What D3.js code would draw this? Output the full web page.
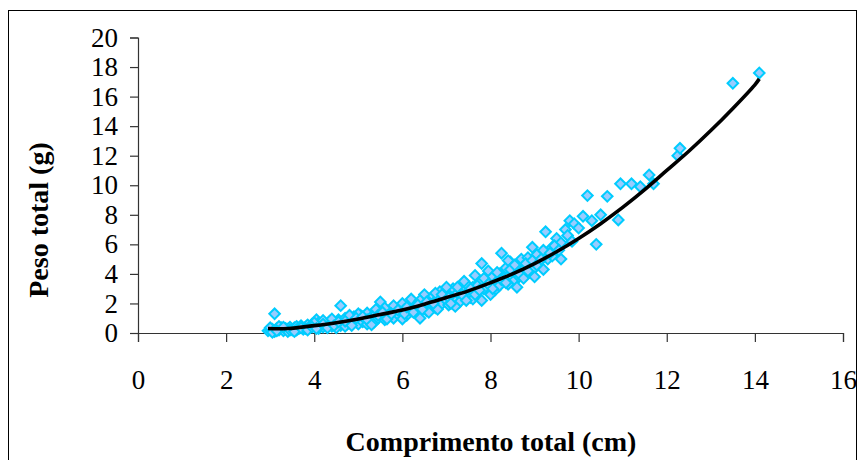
<!DOCTYPE html>
<html>
<head>
<meta charset="utf-8">
<script src="https://cdn.jsdelivr.net/npm/d3@7"></script>
<style>
  body { margin: 0; background: #fff; }
  svg { display: block; }
</style>
</head>
<body>
<script>
'use strict';

// scatter: comprimento total (cm) vs peso total (g)
const comprimento = [
  2.95, 3.0, 3.05, 3.1, 3.1, 3.15, 3.2, 3.25, 3.3, 3.35, 3.4, 3.45, 3.5, 3.55, 3.6, 3.65, 3.7, 3.75, 3.8, 3.85,
  3.9, 3.95, 4.0, 4.05, 4.1, 4.1, 4.15, 4.2, 4.25, 4.3, 4.35, 4.4, 4.45, 4.5, 4.55, 4.6, 4.6, 4.65, 4.7, 4.75,
  4.8, 4.85, 4.9, 4.95, 5.0, 5.0, 5.05, 5.1, 5.15, 5.2, 5.25, 5.3, 5.35, 5.4, 5.45, 5.5, 5.5, 5.55, 5.6, 5.65,
  5.7, 5.75, 5.8, 5.85, 5.9, 5.95, 6.0, 6.0, 6.05, 6.1, 6.15, 6.2, 6.25, 6.3, 6.35, 6.4, 6.45, 6.5, 6.5, 6.55,
  6.6, 6.65, 6.7, 6.75, 6.8, 6.85, 6.9, 6.95, 7.0, 7.0, 7.05, 7.1, 7.15, 7.2, 7.25, 7.3, 7.35, 7.4, 7.45, 7.5,
  7.55, 7.6, 7.65, 7.7, 7.75, 7.8, 7.8, 7.85, 7.9, 7.95, 8.0, 8.05, 8.1, 8.15, 8.2, 8.25, 8.3, 8.35, 8.4, 8.45,
  8.5, 8.55, 8.6, 8.65, 8.7, 8.75, 8.8, 8.85, 8.9, 8.95, 9.0, 9.05, 9.1, 9.2, 9.25, 9.3, 9.4, 9.5, 9.6, 9.7,
  9.8, 9.9, 10.0, 10.1, 10.2, 10.3, 10.4, 10.5, 10.65, 10.9, 10.95, 11.2, 11.4, 11.6, 11.7, 12.25, 12.3, 13.5, 14.1,
  3.0, 3.2, 3.4, 3.6, 3.8, 4.0, 4.2, 4.4, 4.5, 4.7, 4.8, 5.0, 5.2, 5.4, 5.6, 5.8, 6.0, 6.2, 6.4, 6.6,
  6.8, 7.0, 7.2, 7.4, 7.6, 7.7, 8.0, 8.2, 8.4, 8.6, 8.8, 9.0, 9.2, 9.4, 9.6,
  3.05, 3.15, 3.3, 3.45, 3.55, 3.7, 3.85, 3.95, 4.05, 4.2, 4.3, 4.45, 4.55, 4.7, 4.85, 4.95, 5.1, 5.2, 5.3, 5.45,
  5.55, 5.65, 5.75, 5.9, 6.05, 6.1, 6.25, 6.35, 6.45, 6.55, 6.7, 6.75, 6.9, 7.05, 7.1, 7.25, 7.35, 7.45, 7.55, 7.65,
  7.75, 7.85, 7.95, 8.05, 8.15, 8.25, 8.35, 8.45, 8.55, 8.65, 8.75, 8.85, 8.95, 9.05, 9.15, 9.35, 9.45, 9.55, 9.75, 9.85
];
const peso = [
  0.15, 0.2, 0.25, 0.1, 1.3, 0.3, 0.2, 0.35, 0.15, 0.3, 0.25, 0.4, 0.2, 0.35, 0.45, 0.3, 0.5, 0.25, 0.4, 0.55,
  0.35, 0.6, 0.45, 0.9, 0.3, 0.7, 0.5, 0.4, 0.65, 0.55, 0.8, 0.45, 0.7, 0.6, 0.9, 1.85, 0.5, 0.75, 1.0, 0.6,
  0.85, 0.7, 1.1, 0.8, 0.95, 0.6, 1.2, 0.75, 1.0, 1.35, 0.85, 1.1, 0.7, 1.3, 1.0, 1.5, 2.1, 1.15, 0.9, 1.4,
  1.2, 1.6, 1.0, 1.45, 1.25, 1.7, 1.4, 2.0, 1.6, 1.2, 1.85, 1.5, 2.1, 1.7, 1.3, 1.0, 2.0, 1.8, 2.6, 1.5,
  2.2, 1.9, 2.5, 1.7, 2.3, 2.8, 2.0, 2.4, 2.2, 2.7, 1.9, 2.5, 3.0, 2.3, 2.7, 2.1, 2.9, 2.5, 3.3, 2.8,
  2.4, 3.1, 3.9, 2.7, 3.4, 4.7, 2.2, 3.0, 3.6, 4.2, 3.2, 3.8, 2.9, 3.5, 4.0, 5.4, 3.7, 4.4, 3.3, 4.8,
  4.1, 3.6, 4.5, 3.8, 5.0, 4.3, 3.9, 5.1, 4.6, 5.8, 4.4, 5.3, 4.8, 5.6, 6.85, 5.0, 5.2, 6.4, 6.1, 7.0,
  7.6, 7.4, 7.1, 7.9, 9.3, 7.6, 6.0, 8.0, 9.25, 7.65, 10.1, 10.1, 9.9, 10.7, 10.1, 12.0, 12.5, 16.9, 17.6,
  0.35, 0.45, 0.1, 0.2, 0.3, 0.7, 0.85, 0.95, 0.35, 0.45, 1.2, 1.3, 0.6, 1.6, 1.7, 1.85, 0.95, 2.3, 2.2, 1.4,
  1.6, 3.1, 1.8, 3.5, 2.3, 3.2, 2.6, 3.2, 4.9, 3.1, 4.7, 3.8, 4.3, 5.8, 5.0,
  0.05, 0.15, 0.4, 0.2, 0.1, 0.35, 0.2, 0.4, 0.3, 0.6, 0.35, 0.5, 0.75, 0.8, 0.5, 1.0, 1.1, 0.9, 0.55, 1.2,
  1.4, 0.95, 1.3, 1.55, 1.3, 1.75, 1.4, 1.9, 1.6, 2.1, 2.0, 2.7, 2.6, 2.4, 2.0, 3.1, 2.6, 2.2, 3.0, 2.6,
  2.9, 3.7, 3.3, 3.0, 4.1, 3.6, 3.4, 4.3, 4.6, 4.0, 3.7, 4.2, 4.9, 4.6, 5.0, 5.4, 5.9, 5.6, 6.6, 6.2
];

// trend line
const trendX = [2.95, 3.4, 4, 4.5, 5, 5.5, 6, 6.5, 7, 7.5, 8, 8.5, 9, 9.5, 10, 10.5, 11, 11.5, 12, 12.5, 13, 13.5, 14, 14.1];
const trendY = [0.3, 0.3, 0.5, 0.7, 0.95, 1.25, 1.55, 1.95, 2.4, 2.85, 3.4, 4.0, 4.7, 5.5, 6.4, 7.4, 8.5, 9.7, 11.0, 12.3, 13.7, 15.2, 16.8, 17.2];

const xTicks = [0, 2, 4, 6, 8, 10, 12, 14, 16];
const yTicks = [0, 2, 4, 6, 8, 10, 12, 14, 16, 18, 20];

const W = 859, H = 460;
const FONT = "'Liberation Serif', 'Times New Roman', serif";

const svg = d3.select("body").append("svg")
  .attr("width", W)
  .attr("height", H);

// outer chart border
svg.append("rect")
  .attr("x", 8.5).attr("y", 10.5)
  .attr("width", 848).attr("height", 470)
  .attr("fill", "none")
  .attr("stroke", "#000")
  .attr("stroke-width", 1);

const x = d3.scaleLinear().domain([0, 16]).range([138, 843]);
const y = d3.scaleLinear().domain([0, 20]).range([333, 37.5]);

const xAxis = svg.append("g")
  .attr("transform", "translate(0," + y(0) + ")")
  .call(d3.axisBottom(x).tickValues(xTicks).tickSize(9).tickPadding(28).tickFormat(d3.format("d")));

const yAxis = svg.append("g")
  .attr("transform", "translate(" + x(0) + ",0)")
  .call(d3.axisLeft(y).tickValues(yTicks).tickSize(8).tickPadding(12).tickFormat(d3.format("d")));

[xAxis, yAxis].forEach(g => {
  g.select(".domain").attr("stroke", "#333").attr("stroke-width", 1.2);
  g.selectAll(".tick line").attr("stroke", "#333").attr("stroke-width", 1.2);
  g.selectAll(".tick text")
    .attr("fill", "#000")
    .style("font-family", FONT)
    .style("font-size", "27px");
});

// points
const pts = comprimento.map((c, i) => ({ c: c, p: peso[i] }));
svg.append("g")
  .selectAll("path")
  .data(pts)
  .join("path")
  .attr("d", d3.symbol().type(d3.symbolSquare).size(56))
  .attr("transform", d => "translate(" + x(d.c) + "," + y(d.p) + ") rotate(45)")
  .attr("fill", "#99ccff")
  .attr("stroke", "#00ccff")
  .attr("stroke-width", 2);

// trend line
const trend = trendX.map((t, i) => [t, trendY[i]]);
svg.append("path")
  .datum(trend)
  .attr("d", d3.line().x(d => x(d[0])).y(d => y(d[1])).curve(d3.curveCatmullRom))
  .attr("fill", "none")
  .attr("stroke", "#000")
  .attr("stroke-width", 3.6)
  .attr("stroke-linejoin", "round");

// axis titles
svg.append("text")
  .attr("x", 491).attr("y", 451)
  .attr("text-anchor", "middle")
  .style("font-family", FONT)
  .style("font-size", "28px")
  .style("font-weight", "bold")
  .text("Comprimento total (cm)");

svg.append("text")
  .attr("transform", "translate(48,220) rotate(-90)")
  .attr("text-anchor", "middle")
  .style("font-family", FONT)
  .style("font-size", "28px")
  .style("font-weight", "bold")
  .text("Peso total (g)");
</script>
</body>
</html>
